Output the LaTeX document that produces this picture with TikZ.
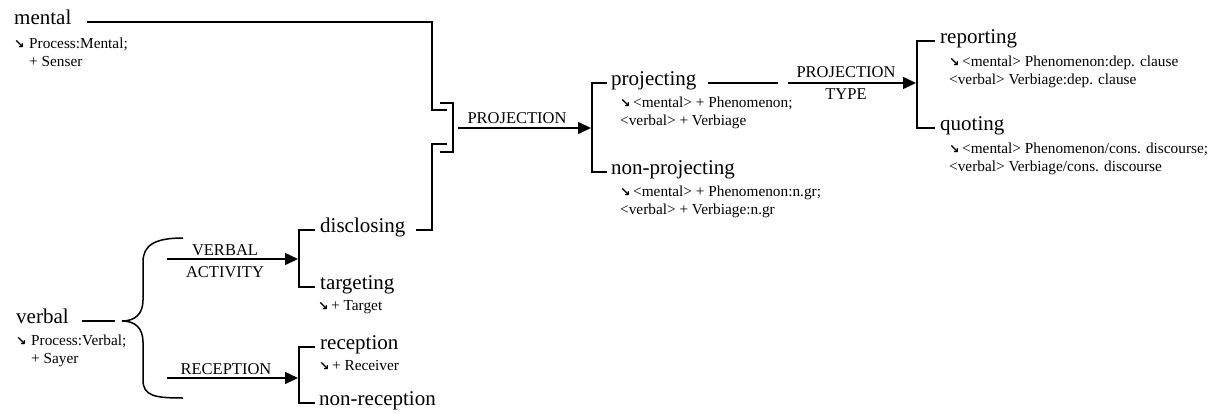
\documentclass[tikz,border=0pt]{standalone}
\usepackage{fontspec}
\setmainfont{Liberation Serif}
\newfontfamily\arrowfamily{DejaVu Sans}
\usetikzlibrary{arrows.meta}
% type sizes: terms, realisation statements, system names
\newcommand\termsize{\fontsize{21}{25}\selectfont}
\newcommand\featsize{\fontsize{15.3}{18}\selectfont}
\newcommand\syssize{\fontsize{16.5}{20}\selectfont}
% realisation arrow in a box of given width
\newcommand\realarrow[1]{\makebox[#1][l]{\raisebox{-0.5pt}{\arrowfamily\bfseries\fontsize{12.5}{14}\selectfont ↘}}}
\begin{document}
\begin{tikzpicture}[x=1pt,y=-1pt,
  term/.style={font=\termsize, inner sep=0pt, anchor=mid west},
  feat/.style={font=\featsize, inner sep=0pt, anchor=base west},
  sysname/.style={font=\syssize, inner sep=0pt, anchor=base},
  net/.style={line width=1.5pt},
  sysarrow/.style={net, -{Triangle[length=13pt,width=12pt]}}]
\useasboundingbox (0,0) rectangle (1213,413);

% ---------- entry features ----------
\node[term] (mental) at (14,22) {mental};
\node[feat] (mental-f1) at (14,48) {\realarrow{15pt}Process:Mental;};
\node[feat] (mental-f2) at (29,66) {+ Senser};

\node[term] (verbal) at (16,321) {verbal};
\node[feat] (verbal-f1) at (16,345) {\realarrow{15pt}Process:Verbal;};
\node[feat] (verbal-f2) at (31,363) {+ Sayer};

% ---------- verbal systems ----------
\coordinate (verbal-end) at (115,321);
\draw[net] ([xshift=13pt]verbal.mid east) -- (verbal-end);

% curly brace opening the two simultaneous systems
\coordinate (brace-tip) at (122,321);
\coordinate (brace-top) at (183,238);
\coordinate (brace-bot) at (183,398);
\draw[net] (brace-top) .. controls (155,238) and (143,245) .. (143,262)
  -- (143,300) .. controls (143,314) and (135,321) .. (brace-tip)
  .. controls (135,321) and (143,328) .. (143,342)
  -- (143,380) .. controls (143,396) and (155,398) .. (brace-bot);

% VERBAL ACTIVITY
\coordinate (va-start) at (167,259);
\coordinate (va-end) at (298,259);
\draw[sysarrow] (va-start) -- (va-end);
\node[sysname] (va-l1) at (225,255) {VERBAL};
\node[sysname] (va-l2) at (225,277) {ACTIVITY};

\node[term] (disclosing) at (320,230) {disclosing};
\node[term] (targeting) at (320,287) {targeting};
\node[feat] (targeting-f1) at (318,310) {\realarrow{13pt}+ Target};
\draw[net] ([xshift=-5pt]disclosing.mid west) -| ([xshift=-21pt]targeting.mid west)
  -- ([xshift=-5pt]targeting.mid west);

% RECEPTION
\coordinate (rc-start) at (167,378);
\coordinate (rc-end) at (298,378);
\draw[sysarrow] (rc-start) -- (rc-end);
\node[sysname] (rc-l1) at (226,374) {RECEPTION};

\node[term] (reception) at (320,347) {reception};
\node[feat] (reception-f1) at (319,370) {\realarrow{13pt}+ Receiver};
\node[term] (nonreception) at (319,403) {non-reception};
\draw[net] ([xshift=-5pt]reception.mid west) -| ([xshift=-20pt]nonreception.mid west)
  -- ([xshift=-4pt]nonreception.mid west);

% ---------- conjunction: mental or disclosing ----------
\coordinate (and-in1) at (432,110);
\coordinate (and-in2) at (432,144);
\draw[net] ([xshift=15pt]mental.mid east) -| (and-in1) -- ++(15,0);
\draw[net] ([xshift=10pt]disclosing.mid east) -| (and-in2) -- ++(15,0);
\coordinate (and-top) at (440,103);
\coordinate (and-bot) at (440,152);
\draw[net] (and-top) -| (453,152) -- (and-bot);

% PROJECTION
\coordinate (pr-start) at (458,128);
\coordinate (pr-end) at (591,128);
\draw[sysarrow] (pr-start) -- (pr-end);
\node[sysname] (pr-l1) at (517,123) {PROJECTION};

\node[term] (projecting) at (611,83) {projecting};
\node[feat] (projecting-f1) at (620,107) {\realarrow{13pt}<mental> + Phenomenon;};
\node[feat] (projecting-f2) at (620,125) {<verbal> + Verbiage};
\node[term] (nonprojecting) at (611,172) {non-projecting};
\node[feat] (nonprojecting-f1) at (620,196) {\realarrow{13pt}<mental> + Phenomenon:n.gr;};
\node[feat] (nonprojecting-f2) at (620,214) {<verbal> + Verbiage:n.gr};
\draw[net] ([xshift=-4pt]projecting.mid west) -| ([xshift=-19pt]nonprojecting.mid west)
  -- ([xshift=-4pt]nonprojecting.mid west);

% PROJECTION TYPE
\coordinate (pt-line-end) at (778,83);
\draw[net] ([xshift=11pt]projecting.mid east) -- (pt-line-end);
\coordinate (pt-start) at (788,83);
\coordinate (pt-end) at (916,83);
\draw[sysarrow] (pt-start) -- (pt-end);
\node[sysname] (pt-l1) at (846,77) {PROJECTION};
\node[sysname] (pt-l2) at (846,99) {TYPE};

\node[term] (reporting) at (940,41) {reporting};
\node[feat] (reporting-f1) at (949,66) {\realarrow{13pt}<mental> Phenomenon:dep. clause};
\node[feat] (reporting-f2) at (949,84) {<verbal> Verbiage:dep. clause};
\node[term] (quoting) at (940,128) {quoting};
\node[feat] (quoting-f1) at (949,153) {\realarrow{13pt}<mental> Phenomenon/cons. discourse;};
\node[feat] (quoting-f2) at (949,171) {<verbal> Verbiage/cons. discourse};
\draw[net] ([xshift=-5pt]reporting.mid west) -| ([xshift=-23pt]quoting.mid west)
  -- ([xshift=-5pt]quoting.mid west);
\end{tikzpicture}
\end{document}
